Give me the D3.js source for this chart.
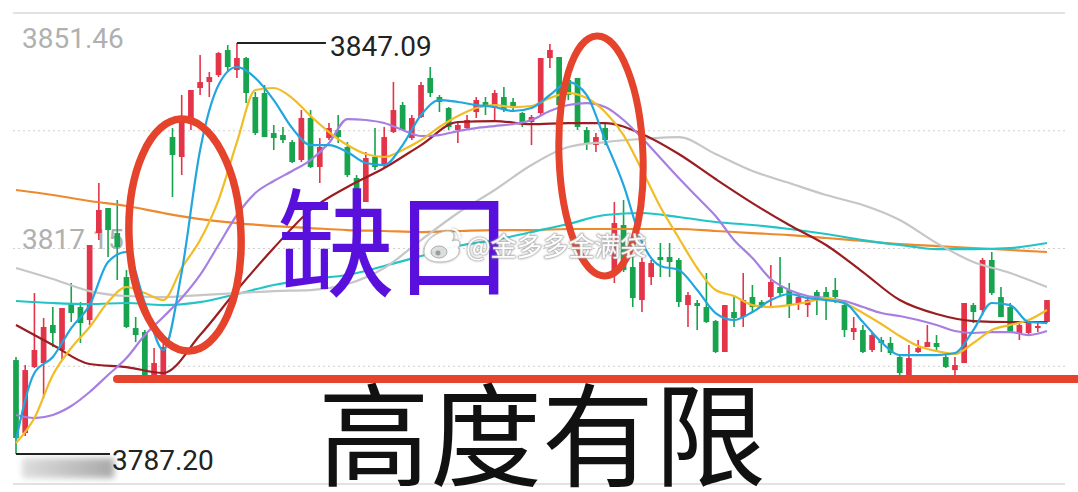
<!DOCTYPE html>
<html><head><meta charset="utf-8">
<script src="https://cdn.jsdelivr.net/npm/d3@7"></script>
<style>html,body{margin:0;padding:0;background:#fff;overflow:hidden}</style>
</head><body><svg id="c" width="1078" height="492"></svg>
<script>
// ---------- DATA ----------
const open = [3800.90,3790.27,3799.88,3800.46,3806.00,3802.36,3809.21,3808.62,3806.73,3819.40,
3823.05,3819.40,3812.99,3805.56,3804.98,3798.72,3798.72,3833.39,3830.48,3835.87,
3840.53,3841.40,3842.42,3846.07,3843.15,3844.90,3839.22,3839.80,3833.97,3833.68,
3832.66,3830.04,3836.16,3829.02,3833.24,3834.41,3831.93,3827.42,3823.92,3830.48,
3829.31,3834.12,3838.05,3833.24,3836.30,3841.99,3839.22,3837.62,3834.41,3834.70,
3837.03,3838.49,3837.62,3839.22,3838.49,3836.89,3835.58,3836.89,3844.90,3845.05,
3841.69,3841.99,3834.41,3832.22,3834.70,3813.29,3820.57,3814.45,3809.64,3812.99,
3815.91,3815.91,3815.47,3808.91,3809.21,3808.62,3806.58,3802.07,3807.90,3807.17,
3810.08,3809.35,3810.08,3811.54,3811.10,3809.21,3808.91,3810.81,3810.81,3811.10,
3808.91,3804.98,3805.27,3802.36,3803.82,3803.38,3801.34,3797.99,3802.07,3802.80,
3803.38,3801.34,3799.44,3800.46,3808.91,3808.19,3815.47,3810.08,3808.62,3804.84,
3804.84,3805.56,3806.44];
const high = [3801.34,3800.17,3810.66,3807.02,3808.62,3808.48,3812.12,3809.35,3817.66,3826.69,
3823.05,3824.21,3814.01,3807.17,3805.27,3802.65,3803.38,3834.70,3839.51,3840.24,
3845.34,3842.86,3845.77,3846.79,3847.09,3845.05,3839.95,3840.97,3835.14,3834.85,
3832.95,3837.32,3837.32,3833.24,3835.43,3836.60,3832.66,3827.85,3831.21,3834.70,
3834.85,3841.40,3838.49,3836.60,3841.40,3843.59,3839.51,3837.76,3835.43,3836.60,
3839.22,3839.22,3840.24,3840.67,3839.07,3837.03,3836.60,3844.90,3846.94,3845.05,
3842.71,3841.99,3834.85,3833.97,3835.43,3823.92,3824.21,3815.91,3815.76,3815.47,
3817.95,3817.95,3815.76,3810.81,3809.64,3813.58,3806.73,3808.91,3810.08,3813.58,
3811.83,3809.64,3814.74,3815.91,3812.12,3810.66,3810.08,3811.10,3811.54,3812.85,
3809.21,3807.17,3806.00,3804.84,3804.25,3804.25,3801.63,3803.09,3803.82,3806.00,
3804.54,3801.63,3801.34,3809.21,3809.21,3815.76,3816.64,3811.54,3809.21,3806.29,
3806.73,3806.29,3809.64];
const low = [3787.21,3789.83,3799.74,3795.37,3802.80,3800.90,3806.44,3803.38,3806.00,3818.38,
3815.91,3812.56,3805.56,3803.52,3798.42,3798.42,3798.42,3824.65,3827.85,3834.41,
3839.51,3839.22,3842.13,3842.86,3841.99,3838.34,3833.68,3833.39,3831.50,3832.52,
3829.60,3829.75,3828.87,3826.69,3832.95,3832.52,3827.56,3823.77,3823.92,3828.58,
3828.87,3833.97,3834.41,3832.95,3836.16,3839.22,3837.03,3834.41,3832.52,3834.41,
3836.16,3836.60,3835.87,3837.03,3837.03,3834.85,3832.22,3836.60,3843.44,3837.76,
3838.78,3834.41,3831.50,3831.21,3832.22,3812.12,3813.72,3808.62,3807.90,3811.83,
3812.99,3812.99,3808.62,3805.71,3805.27,3806.29,3801.92,3802.07,3805.71,3805.71,
3807.75,3808.48,3808.62,3810.08,3807.02,3808.19,3807.17,3807.46,3806.73,3809.21,
3804.25,3803.82,3801.92,3802.07,3802.07,3801.63,3798.72,3797.55,3801.92,3802.80,
3802.36,3799.74,3798.72,3800.46,3806.29,3807.46,3810.37,3807.17,3804.84,3803.82,
3804.54,3804.98,3806.29];
const close = [3789.54,3799.44,3802.36,3805.71,3804.84,3808.48,3807.75,3806.29,3817.66,3822.76,
3819.84,3817.36,3805.71,3804.54,3798.42,3800.46,3802.80,3830.77,3835.87,3840.24,
3841.40,3842.13,3845.63,3843.59,3844.90,3839.80,3833.97,3833.39,3833.24,3832.95,
3829.75,3836.16,3829.02,3831.93,3834.70,3833.39,3827.85,3824.21,3830.33,3829.02,
3833.39,3837.32,3834.41,3836.16,3840.97,3839.80,3838.49,3834.85,3835.14,3835.87,
3838.78,3838.05,3839.80,3837.32,3837.62,3835.58,3836.30,3844.90,3846.07,3838.05,
3839.51,3834.85,3832.52,3833.39,3832.95,3820.86,3814.01,3809.93,3815.18,3815.03,
3815.47,3815.18,3809.35,3810.37,3808.77,3806.44,3802.07,3808.91,3807.02,3809.64,
3808.62,3808.62,3812.27,3810.66,3808.91,3810.08,3809.64,3810.08,3809.64,3810.08,
3805.27,3805.56,3802.07,3804.54,3803.38,3801.92,3799.01,3801.19,3802.65,3803.52,
3802.80,3799.88,3800.17,3809.21,3807.90,3815.47,3810.66,3807.17,3804.98,3806.00,
3806.29,3805.86,3809.64];

// moving averages (ma5/ma10/ma20 every 2 bars, others every 4 bars)
const ma5 = [3789.25,3799.01,3801.34,3805.56,3808.91,3815.18,3816.64,3809.21,3802.36,3813.72,
3831.50,3840.97,3843.59,3841.99,3838.78,3834.70,3832.22,3832.22,3831.21,3829.60,
3829.31,3832.22,3836.60,3838.78,3838.49,3838.05,3837.76,3837.18,3837.62,3839.51,
3841.40,3839.51,3832.95,3826.40,3818.09,3814.60,3814.01,3811.10,3807.75,3806.73,
3807.90,3809.64,3810.52,3809.93,3809.64,3809.21,3806.44,3803.52,3801.63,3801.63,
3801.63,3801.92,3805.27,3809.21,3808.91,3806.44,3806.29];
const ma10 = [3788.81,3792.45,3798.72,3802.65,3805.71,3809.35,3811.54,3810.66,3809.64,3814.31,
3818.38,3824.21,3832.66,3840.24,3840.53,3839.07,3836.45,3834.12,3832.22,3830.91,
3830.48,3831.50,3832.95,3834.85,3836.45,3837.62,3838.05,3837.76,3837.91,3839.07,
3839.80,3839.07,3837.03,3833.68,3828.58,3823.19,3818.68,3814.31,3811.10,3810.23,
3808.91,3808.62,3808.91,3809.35,3809.93,3809.21,3807.75,3806.15,3804.40,3802.94,
3802.21,3801.78,3803.38,3805.27,3806.00,3806.73,3808.19];
const ma20 = [3792.89,3792.45,3792.89,3794.20,3796.24,3798.72,3801.19,3804.54,3807.17,3809.93,
3813.29,3817.66,3822.03,3825.23,3826.98,3828.44,3830.04,3832.52,3836.01,3835.87,
3835.43,3834.41,3833.54,3833.68,3834.26,3834.70,3834.99,3835.28,3835.87,3837.18,
3838.05,3838.34,3837.76,3835.87,3833.24,3830.33,3827.42,3824.65,3821.88,3818.38,
3815.76,3812.70,3811.10,3810.23,3809.93,3809.50,3808.62,3807.75,3807.31,3806.73,
3806.00,3805.13,3804.84,3804.98,3804.98,3804.54,3805.13];
const ma30 = [3806.00,3803.09,3800.32,3799.88,3799.01,3804.54,3811.10,3817.22,3822.76,3826.11,
3828.87,3832.22,3835.58,3835.72,3835.28,3835.43,3835.43,3833.83,3830.91,3827.27,
3823.77,3820.57,3817.66,3813.72,3809.64,3807.60,3806.58,3806.44,3806.44];
const ma60 = [3814.31,3812.70,3810.95,3810.23,3810.08,3810.37,3810.66,3810.95,3811.10,3811.97,
3814.31,3818.38,3822.32,3825.67,3829.31,3831.93,3832.66,3833.10,3833.39,3830.91,
3828.44,3826.69,3824.94,3823.48,3821.30,3817.95,3815.18,3813.58,3811.54];
const ma120 = [3809.50,3809.21,3809.06,3809.21,3808.91,3809.35,3810.52,3811.83,3812.70,3813.29,
3814.60,3816.05,3817.51,3818.38,3819.55,3820.72,3822.03,3822.32,3821.74,3821.01,
3820.57,3819.99,3819.26,3818.38,3817.66,3817.07,3817.07,3817.22,3817.95];
const ma250 = [3825.67,3824.94,3824.07,3823.34,3822.32,3821.44,3820.86,3820.42,3820.13,3819.84,
3819.70,3819.55,3819.70,3819.84,3819.84,3819.99,3819.99,3819.99,3819.99,3819.70,
3819.40,3819.11,3818.68,3818.24,3817.80,3817.51,3817.22,3816.93,3816.64];

const axisTicks = [3851.46, 3817.15];
const rangeTop = 3851.46, rangeBottom = 3782.84;
const maxMark = 3847.09, maxIndex = 24;
const minMark = 3787.20, minIndex = 0;
const noteGap = "缺口";
const noteHeight = "高度有限";
const watermark = "@金多多金满袋";

// ---------- SCALES ----------
const N = open.length;
const svg = d3.select('#c');
const x = d3.scalePoint().domain(d3.range(N)).range([16, 1047]);
const step = x.step();
const bodyW = step * 0.62;
const y = d3.scaleLinear().domain([rangeBottom, rangeTop]).range([484, 13]);

// ---------- GRID ----------
const gridVals = d3.range(5).map(k => rangeTop - k * (rangeTop - rangeBottom) / 4);
svg.append('g').selectAll('line').data(gridVals).join('line')
  .attr('x1', 13).attr('x2', 1065)
  .attr('y1', d => y(d)).attr('y2', d => y(d))
  .attr('stroke', (d, i) => (i === 0 || i === 4) ? '#e2e2e2' : '#cfcfcf')
  .attr('stroke-width', (d, i) => (i === 0 || i === 4) ? 2 : 1)
  .attr('stroke-dasharray', (d, i) => (i === 0 || i === 4) ? null : '2,3');

// axis labels
svg.append('g').selectAll('text').data(axisTicks).join('text')
  .attr('x', 22)
  .attr('y', (d, i) => i === 0 ? y(d) + 35 : y(d))
  .attr('font-family', 'Roboto, sans-serif').attr('font-size', 28)
  .attr('fill', '#b0b0b0')
  .text(d => d.toFixed(2));

// ---------- CANDLES ----------
const red = '#e3344a', green = '#18a34e';
const cg = svg.append('g');
const idx = d3.range(N);
cg.selectAll('line').data(idx).join('line')
  .attr('x1', i => x(i)).attr('x2', i => x(i))
  .attr('y1', i => y(high[i])).attr('y2', i => y(low[i]))
  .attr('stroke', i => close[i] >= open[i] ? red : green)
  .attr('stroke-width', 1.6);
cg.selectAll('rect').data(idx).join('rect')
  .attr('x', i => x(i) - bodyW / 2).attr('width', bodyW)
  .attr('y', i => y(Math.max(open[i], close[i])))
  .attr('height', i => Math.max(1.5, Math.abs(y(open[i]) - y(close[i]))))
  .attr('fill', i => close[i] >= open[i] ? red : green);

// ---------- MOVING AVERAGES ----------
const maSeries = [
  {v: ma250, s: 4, c: '#ee8a2e'},
  {v: ma120, s: 4, c: '#22c4c6'},
  {v: ma60, s: 4, c: '#c6c6c6'},
  {v: ma30, s: 4, c: '#9a1d22'},
  {v: ma20, s: 2, c: '#a77fe2'},
  {v: ma10, s: 2, c: '#f1bd26'},
  {v: ma5, s: 2, c: '#22a6df'}
];
const line = d3.line().curve(d3.curveMonotoneX);
svg.append('g').selectAll('path').data(maSeries).join('path')
  .attr('d', d => line(d.v.map((v, k) => [x(k * d.s), y(v)])))
  .attr('fill', 'none').attr('stroke', d => d.c).attr('stroke-width', 2.2)
  .attr('stroke-linejoin', 'round');

// ---------- HIGH / LOW MARKERS ----------
svg.append('line').attr('x1', x(maxIndex)).attr('x2', x(maxIndex) + 89)
  .attr('y1', y(maxMark)).attr('y2', y(maxMark)).attr('stroke', '#222').attr('stroke-width', 2);
svg.append('text').attr('x', x(maxIndex) + 93).attr('y', y(maxMark) + 13)
  .attr('font-family', 'Roboto, sans-serif').attr('font-size', 28).attr('fill', '#222')
  .text(maxMark.toFixed(2));

const defs = svg.append('defs');
defs.append('filter').attr('id', 'blur').attr('x', '-20%').attr('y', '-50%').attr('width', '140%').attr('height', '200%')
  .append('feGaussianBlur').attr('stdDeviation', 3);
defs.append('linearGradient').attr('id', 'mos').call(g => {
  g.append('stop').attr('offset', '0%').attr('stop-color', '#d8d8d8');
  g.append('stop').attr('offset', '100%').attr('stop-color', '#9a9a9a');
});
svg.append('rect').attr('x', x(minIndex) + 6).attr('y', y(minMark) + 4).attr('width', 92).attr('height', 20)
  .attr('fill', 'url(#mos)').attr('filter', 'url(#blur)').attr('opacity', 0.85);
svg.append('line').attr('x1', x(minIndex)).attr('x2', x(minIndex) + 94)
  .attr('y1', y(minMark)).attr('y2', y(minMark)).attr('stroke', '#222').attr('stroke-width', 2);
svg.append('text').attr('x', x(minIndex) + 96).attr('y', y(minMark) + 16)
  .attr('font-family', 'Roboto, sans-serif').attr('font-size', 28).attr('fill', '#222')
  .text(minMark.toFixed(2));

// ---------- ANNOTATIONS ----------
const annoRed = '#e5432b';
svg.append('ellipse').attr('cx', 185).attr('cy', 235).attr('rx', 56).attr('ry', 116)
  .attr('transform', 'rotate(-2,185,235)')
  .attr('fill', 'none').attr('stroke', annoRed).attr('stroke-width', 7.5);
svg.append('ellipse').attr('cx', 601).attr('cy', 156).attr('rx', 42).attr('ry', 120)
  .attr('transform', 'rotate(-2,601,156)')
  .attr('fill', 'none').attr('stroke', annoRed).attr('stroke-width', 7);
svg.append('line').attr('x1', 117).attr('x2', 1080).attr('y1', 379).attr('y2', 379)
  .attr('stroke', annoRed).attr('stroke-width', 8).attr('stroke-linecap', 'round');

svg.append('text').attr('x', 277).attr('y', 288)
  .attr('font-family', '"Noto Sans CJK SC", sans-serif').attr('font-size', 118).attr('font-weight', 400)
  .attr('fill', '#5a10dc').text(noteGap);

svg.append('text').attr('x', 318).attr('y', 478)
  .attr('font-family', '"Noto Sans CJK SC", sans-serif').attr('font-size', 112).attr('font-weight', 400)
  .attr('fill', '#111').text(noteHeight);

// watermark
const wm = svg.append('g').attr('opacity', 0.95);
defs.append('filter').attr('id', 'sh').call(f => {
  f.append('feDropShadow').attr('dx', 0).attr('dy', 0).attr('stdDeviation', 1.2).attr('flood-color', '#888').attr('flood-opacity', 0.9);
});
const lg = wm.append('g').attr('filter', 'url(#sh)');
lg.append('path').attr('d', 'M424,252 C424,240 438,231 448,231 C455,231 455,237 452,241 C459,238 462,243 458,248 C462,252 456,262 440,262 C430,262 424,258 424,252 Z')
  .attr('fill', '#fff').attr('stroke', '#bbb').attr('stroke-width', 1);
lg.append('ellipse').attr('cx', 439).attr('cy', 252).attr('rx', 8).attr('ry', 6).attr('fill', '#ddd').attr('stroke', '#aaa');
lg.append('circle').attr('cx', 438).attr('cy', 253).attr('r', 2.5).attr('fill', '#999');
lg.append('path').attr('d', 'M452,229 A9,9 0 0 1 460,238').attr('fill', 'none').attr('stroke', '#fff').attr('stroke-width', 2.2);
wm.append('text').attr('x', 466).attr('y', 256)
  .attr('font-family', '"Noto Sans CJK SC", sans-serif').attr('font-size', 26)
  .attr('fill', '#fff').attr('stroke', '#b8b8b8').attr('stroke-width', 1)
  .attr('paint-order', 'stroke').attr('filter', 'url(#sh)').text(watermark);
</script></body></html>
